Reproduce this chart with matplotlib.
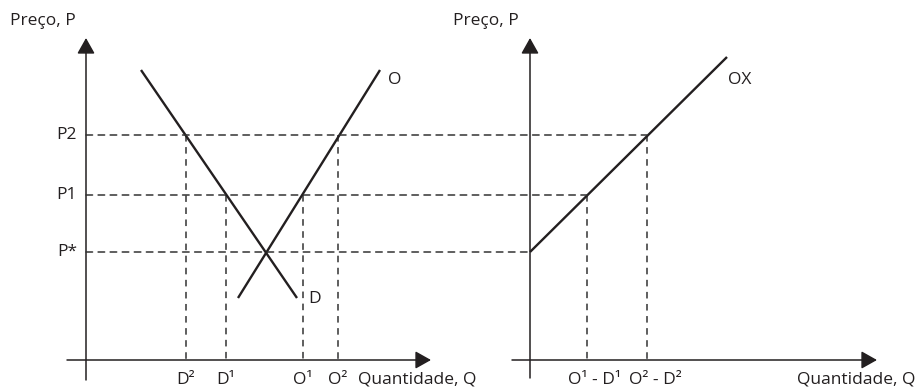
import matplotlib
matplotlib.use("Agg")
import matplotlib.pyplot as plt
from matplotlib.patches import ConnectionPatch

plt.rcParams['font.family'] = ['Open Sans', 'DejaVu Sans']

# price levels (same scale on both panels)
precos = [10.8, 16.5, 22.5]
preco_labels = ['P*', 'P1', 'P2']

# left panel: demand and supply lines
demanda_q = [5.5, 21.1]
demanda_p = [29.0, 6.2]
oferta_q = [15.2, 29.4]
oferta_p = [6.2, 29.0]

# quantities demanded / supplied at P1 and P2
q_demanda = [14.0, 10.0]
q_demanda_labels = ['D\u00b9', 'D\u00b2']
q_oferta = [21.7, 25.2]
q_oferta_labels = ['O\u00b9', 'O\u00b2']

# right panel: export supply OX
ox_q = [0.0, 19.7]
ox_p = [10.8, 30.3]
excesso = [5.7, 11.7]
excesso_labels = ['O\u00b9 - D\u00b9', 'O\u00b2 - D\u00b2']

ink = '#231f20'
dash_col = '#333333'
dash = (0, (4.3, 3.6))
dlw = 1.1
fs = 12.5

fig = plt.figure(figsize=(9.19, 3.88), dpi=100)
ax1 = fig.add_axes([0, 0, 460 / 919, 1])
ax2 = fig.add_axes([460 / 919, 0, 459 / 919, 1])
ax1.set_xlim(-8.6, 37.4)
ax2.set_xlim(-7.0, 38.9)
for ax in (ax1, ax2):
    ax.set_ylim(-2.8, 36)
    ax.axis('off')

arrow = dict(arrowstyle='-|>,head_length=0.8,head_width=0.45', color=ink,
             lw=1.1, shrinkA=0, shrinkB=0, mutation_scale=12)

# axes with arrows
ax1.annotate('', xy=(0, 32.2), xytext=(0, -2.0), arrowprops=arrow)
ax1.annotate('', xy=(34.5, 0), xytext=(-1.9, 0), arrowprops=arrow)
ax2.annotate('', xy=(0, 32.2), xytext=(0, -1.8), arrowprops=arrow)
ax2.annotate('', xy=(34.7, 0), xytext=(-1.8, 0), arrowprops=arrow)

# horizontal dashed price lines running into the right panel
ends = [0.0] + excesso
for p, q in zip(precos, ends):
    con = ConnectionPatch(xyA=(0, p), coordsA=ax1.transData,
                          xyB=(q, p), coordsB=ax2.transData,
                          color=dash_col, lw=dlw, linestyle=dash)
    fig.add_artist(con)

# vertical dashed lines, left panel
for q, p in zip(q_demanda, precos[1:]):
    ax1.plot([q, q], [p, 0], color=dash_col, lw=dlw, linestyle=dash)
for q, p in zip(q_oferta, precos[1:]):
    ax1.plot([q, q], [p, 0], color=dash_col, lw=dlw, linestyle=dash)

# vertical dashed lines, right panel
for q, p in zip(excesso, precos[1:]):
    ax2.plot([q, q], [p, 0], color=dash_col, lw=dlw, linestyle=dash)

# curves
ax1.plot(demanda_q, demanda_p, color=ink, lw=1.7, solid_capstyle='butt')
ax1.plot(oferta_q, oferta_p, color=ink, lw=1.7, solid_capstyle='butt')
ax2.plot(ox_q, ox_p, color=ink, lw=1.7, solid_capstyle='butt')

# texts
ax1.text(-7.6, 33.9, 'Preço, P', fontsize=fs, color=ink, ha='left', va='center')
ax2.text(-7.7, 33.9, 'Preço, P', fontsize=fs, color=ink, ha='left', va='center')
for p, lab in zip(precos, preco_labels):
    ax1.text(-0.9, p, lab, fontsize=fs, color=ink, ha='right', va='center')
ax1.text(30.2, 28.0, 'O', fontsize=fs, color=ink, ha='left', va='center')
ax1.text(22.2, 6.1, 'D', fontsize=fs, color=ink, ha='left', va='center')
ax2.text(19.8, 28.0, 'OX', fontsize=fs, color=ink, ha='left', va='center')

for q, lab in zip(q_demanda + q_oferta, q_demanda_labels + q_oferta_labels):
    ax1.text(q, -2.0, lab, fontsize=fs, color=ink, ha='center', va='center')
ax1.text(27.2, -2.0, 'Quantidade, Q', fontsize=fs, color=ink, ha='left', va='center')

for q, lab in zip(excesso, excesso_labels):
    ax2.text(q + 0.8, -2.0, lab, fontsize=fs, color=ink, ha='center', va='center')
ax2.text(38.5, -2.0, 'Quantidade, Q', fontsize=fs, color=ink, ha='right', va='center')

fig.savefig('out.png', dpi=100)
